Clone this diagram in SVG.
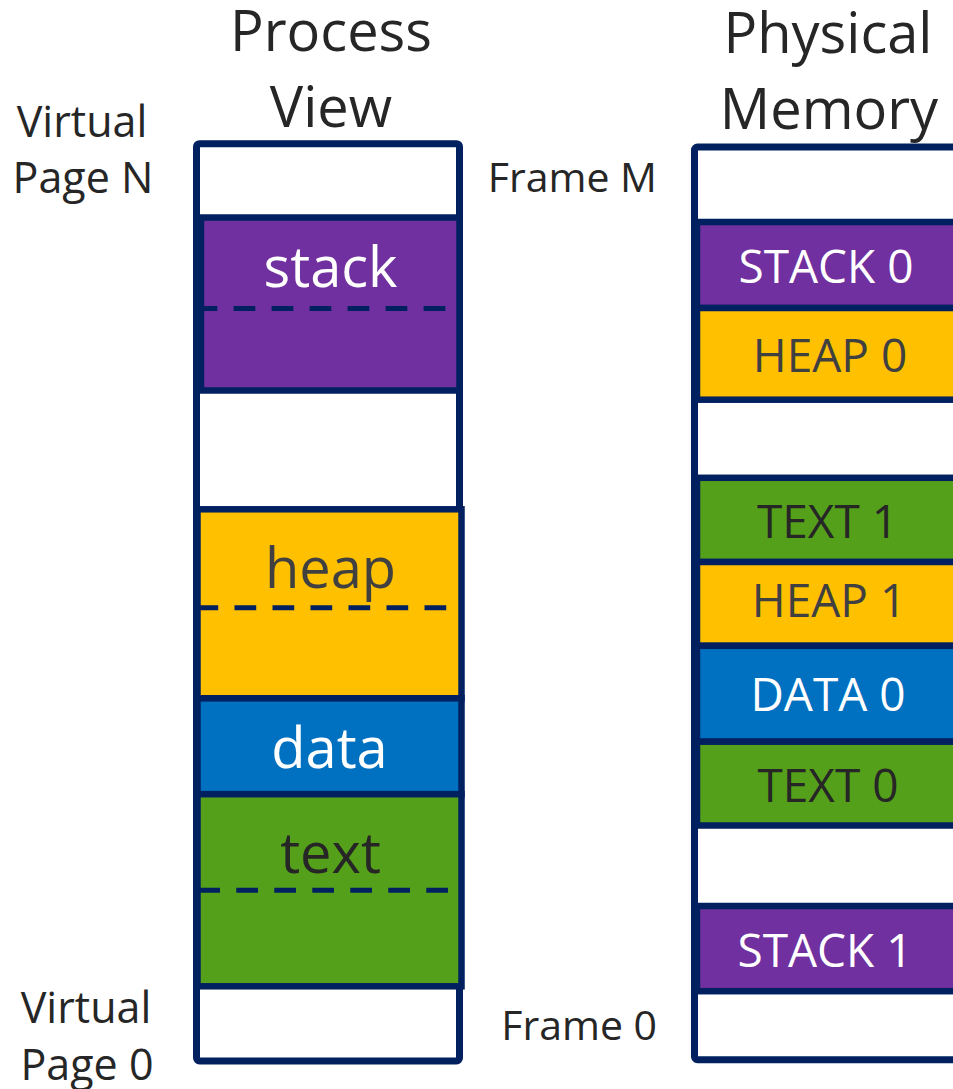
<svg xmlns="http://www.w3.org/2000/svg" width="953" height="1089" viewBox="0 0 953 1089">
  <style>
    text { font-family: "Open Sans", "Noto Sans", "Liberation Sans", sans-serif; text-anchor: middle; fill: #262626; }
    .title { font-size: 56px; }
    .side { font-size: 43px; }
    .frame { font-size: 41px; text-anchor: end; }
    .seg { font-size: 56px; }
    .blk { font-size: 46px; }
    .light { fill: #ffffff; }
    .grey { fill: #404040; }
    .box { fill: #ffffff; stroke: #002060; stroke-width: 7; }
    .part { stroke: #002060; stroke-width: 6.5; }
    .dash { stroke: #002060; stroke-width: 5; stroke-dasharray: 21.7 16.3; fill: none; }
    .purple { fill: #7030A0; }
    .yellow { fill: #FFC000; }
    .blue { fill: #0070C0; }
    .green { fill: #55A01A; }
  </style>

  <!-- column headings -->
  <g id="headings">
    <text class="title" x="331" y="51">Process</text>
    <text class="title" x="331" y="127">View</text>
    <text class="title" x="828" y="53">Physical</text>
    <text class="title" x="829" y="129">Memory</text>
  </g>

  <!-- address labels -->
  <g id="labels">
    <text class="side" x="82" y="137">Virtual</text>
    <text class="side" x="83" y="193">Page N</text>
    <text class="side" x="86" y="1023">Virtual</text>
    <text class="side" x="87" y="1080">Page 0</text>
    <text class="frame" x="657" y="192">Frame M</text>
    <text class="frame" x="657" y="1040">Frame 0</text>
  </g>

  <!-- virtual address space of the process -->
  <g id="process-view">
    <rect class="box" x="196.5" y="143.7" width="263" height="917.3" rx="3"/>
    <g id="seg-stack">
      <rect class="part purple" x="201" y="217.5" width="258.5" height="173"/>
      <line class="dash" x1="195.6" y1="308.5" x2="446" y2="308.5"/>
      <text class="seg light" x="330.5" y="286.5">stack</text>
    </g>
    <g id="seg-heap">
      <rect class="part yellow" x="197.5" y="509.3" width="264" height="189"/>
      <line class="dash" x1="196.5" y1="607.7" x2="447" y2="607.7"/>
      <text class="seg grey" x="330.5" y="588.3">heap</text>
    </g>
    <g id="seg-data">
      <rect class="part blue" x="197.5" y="698.3" width="264" height="95.9"/>
      <text class="seg light" x="329.5" y="768.3">data</text>
    </g>
    <g id="seg-text">
      <rect class="part green" x="197.5" y="794.2" width="264" height="192.1"/>
      <line class="dash" x1="198.3" y1="890.3" x2="448.3" y2="890.3"/>
      <text class="seg" x="330.5" y="873.3">text</text>
    </g>
  </g>

  <!-- physical frames -->
  <g id="physical-memory">
    <rect class="box" x="694.5" y="147" width="400" height="912.7" rx="3"/>
    <g id="frame-stack0">
      <rect class="part purple" x="697" y="222" width="400" height="86"/>
      <text class="blk light" x="826" y="283.3">STACK 0</text>
    </g>
    <g id="frame-heap0">
      <rect class="part yellow" x="697" y="308" width="400" height="91.7"/>
      <text class="blk grey" x="830" y="371.7">HEAP 0</text>
    </g>
    <g id="frame-text1">
      <rect class="part green" x="697" y="477.8" width="400" height="84.2"/>
      <text class="blk" x="827.5" y="538.3">TEXT 1</text>
    </g>
    <g id="frame-heap1">
      <rect class="part yellow" x="697" y="562" width="400" height="83.8"/>
      <text class="blk grey" x="829" y="617.3">HEAP 1</text>
    </g>
    <g id="frame-data0">
      <rect class="part blue" x="697" y="645.8" width="400" height="95.9"/>
      <text class="blk light" x="828" y="710.7">DATA 0</text>
    </g>
    <g id="frame-text0">
      <rect class="part green" x="697" y="741.7" width="400" height="83.8"/>
      <text class="blk" x="828" y="801.7">TEXT 0</text>
    </g>
    <g id="frame-stack1">
      <rect class="part purple" x="697" y="906" width="400" height="85.2"/>
      <text class="blk light" x="825" y="966.7">STACK 1</text>
    </g>
  </g>

  <!-- no connectors in this figure -->
  <g id="connectors"/>
</svg>
